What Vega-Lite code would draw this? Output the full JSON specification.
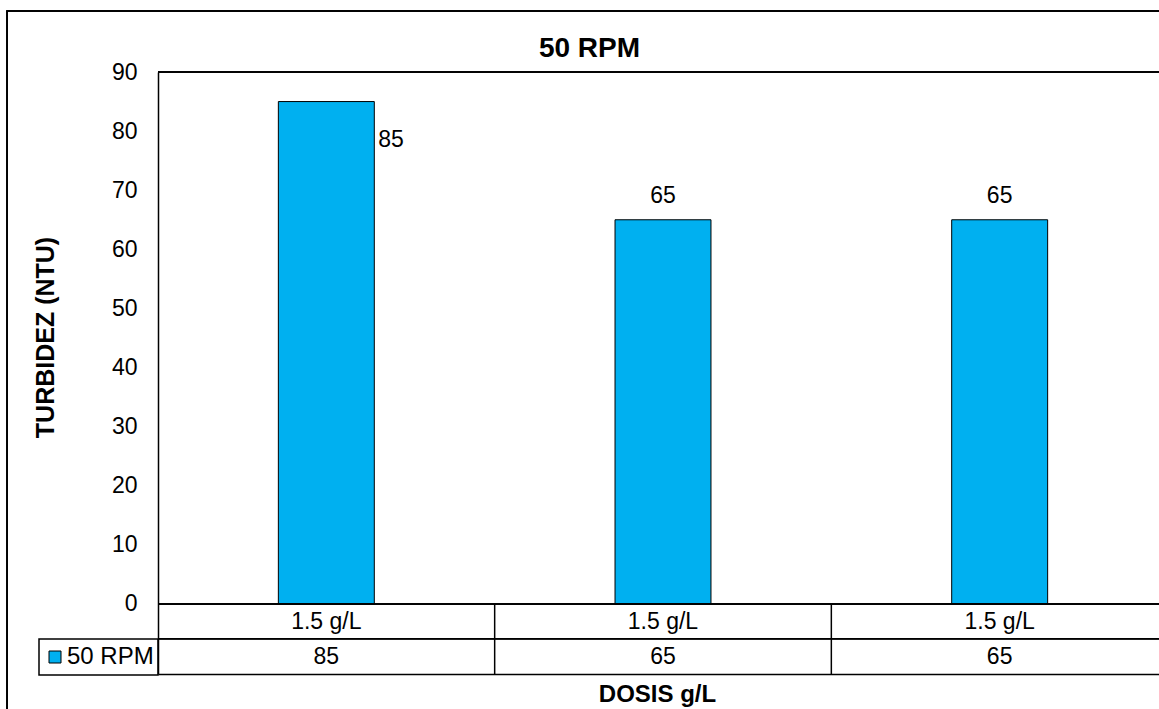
{
  "$schema": "https://vega.github.io/schema/vega-lite/v6.json",
  "width": 1001,
  "height": 602,
  "autosize": {"type": "none"},
  "padding": {"left": 158, "top": 72, "right": 0, "bottom": 35},
  "background": "white",
  "config": {
    "font": "Liberation Sans",
    "view": {"stroke": null},
    "legend": {"strokeWidth": 1.5}
  },
  "title": {
    "text": "50 RPM",
    "fontSize": 28,
    "fontWeight": "bold",
    "color": "black",
    "anchor": "middle",
    "frame": "group",
    "baseline": "alphabetic",
    "offset": -74.5,
    "dx": -69
  },
  "data": {
    "values": [
      {"ensayo": 1, "dosis": "1.5 g/L", "turbidez": 85},
      {"ensayo": 2, "dosis": "1.5 g/L", "turbidez": 65},
      {"ensayo": 3, "dosis": "1.5 g/L", "turbidez": 65}
    ]
  },
  "layer": [
    {
      "mark": {"type": "rect", "filled": false, "stroke": "black", "strokeWidth": 1.5, "clip": false},
      "encoding": {
        "x": {"datum": -0.1508, "type": "quantitative", "scale": {"domain": [0, 1]}, "axis": null},
        "x2": {"datum": 1.2},
        "y": {"datum": 100.32, "type": "quantitative"},
        "y2": {"datum": -20}
      }
    },
    {
      "encoding": {
        "x": {
          "field": "ensayo",
          "type": "nominal",
          "scale": {"range": [0, 1010], "paddingInner": 0, "paddingOuter": 0},
          "axis": {
            "orient": "bottom",
            "labels": false,
            "ticks": false,
            "domain": true,
            "domainColor": "black",
            "domainWidth": 1.5,
            "title": "DOSIS g/L",
            "titleFontSize": 24,
            "titleFontWeight": "bold",
            "titleColor": "black",
            "titleBaseline": "alphabetic",
            "titleAlign": "center",
            "titleX": 499,
            "titleY": 27
          }
        },
        "y": {
          "field": "turbidez",
          "type": "quantitative",
          "scale": {"domain": [-11.843, 90], "nice": false, "zero": false},
          "axis": {
            "values": [0, 10, 20, 30, 40, 50, 60, 70, 80, 90],
            "grid": false,
            "ticks": false,
            "domain": true,
            "domainColor": "black",
            "domainWidth": 1.5,
            "labelFontSize": 23,
            "labelColor": "black",
            "labelPadding": 21,
            "labelDy": 2,
            "title": "TURBIDEZ (NTU)",
            "titleFontSize": 25,
            "titleFontWeight": "bold",
            "titleColor": "black",
            "titleAngle": -90,
            "titleAlign": "center",
            "titleBaseline": "middle",
            "titleX": -113,
            "titleY": 265
          }
        }
      },
      "layer": [
        {
          "mark": {"type": "bar", "width": {"band": 0.285}, "stroke": "black", "strokeWidth": 1},
          "encoding": {
            "y2": {"datum": 0},
            "color": {
              "datum": "50 RPM",
              "scale": {"range": ["#00B0F0"]},
              "legend": {
                "orient": "none",
                "legendX": -119,
                "legendY": 567,
                "title": null,
                "symbolType": "square",
                "symbolSize": 144,
                "symbolStrokeColor": "black",
                "symbolStrokeWidth": 1,
                "labelFontSize": 24,
                "labelColor": "black",
                "labelOffset": 0,
                "clipHeight": 28,
                "padding": 4,
                "strokeColor": "black"
              }
            }
          }
        },
        {
          "transform": [{"filter": "datum.ensayo == 1"}],
          "mark": {"type": "text", "align": "left", "baseline": "middle", "dx": 52, "dy": 38, "fontSize": 23, "color": "black"},
          "encoding": {"text": {"field": "turbidez"}}
        },
        {
          "transform": [{"filter": "datum.ensayo != 1"}],
          "mark": {"type": "text", "align": "center", "baseline": "middle", "dy": -24, "fontSize": 23, "color": "black"},
          "encoding": {"text": {"field": "turbidez"}}
        },
        {
          "mark": {"type": "rule", "color": "black", "strokeWidth": 1.5},
          "encoding": {"x": null, "y": {"datum": 90}}
        },
        {
          "mark": {"type": "rule", "color": "black", "strokeWidth": 1.5},
          "encoding": {"x": null, "y": {"datum": 0}}
        },
        {
          "mark": {"type": "rule", "color": "black", "strokeWidth": 1.5},
          "encoding": {"x": null, "y": {"datum": -5.87}}
        },
        {
          "transform": [{"filter": "datum.ensayo != 1"}],
          "mark": {"type": "rule", "color": "black", "strokeWidth": 1.5},
          "encoding": {
            "x": {"field": "ensayo", "type": "nominal", "bandPosition": 0},
            "y": {"datum": 0},
            "y2": {"datum": -11.843}
          }
        },
        {
          "mark": {"type": "text", "align": "center", "baseline": "middle", "dy": 1, "fontSize": 23, "color": "black"},
          "encoding": {"y": {"datum": -2.935}, "text": {"field": "dosis"}}
        },
        {
          "mark": {"type": "text", "align": "center", "baseline": "middle", "dy": 1, "fontSize": 23, "color": "black"},
          "encoding": {"y": {"datum": -8.86}, "text": {"field": "turbidez"}}
        }
      ]
    }
  ],
  "resolve": {"scale": {"x": "independent"}, "axis": {"x": "independent"}}
}
